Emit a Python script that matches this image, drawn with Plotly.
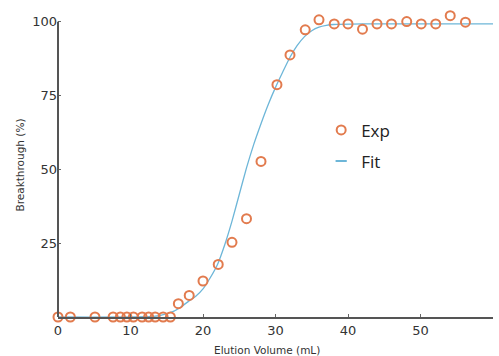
import plotly.graph_objects as go

# Experimental breakthrough data
exp_volume = [0, 1.7, 5.1, 7.6, 8.6, 9.5, 10.4, 11.6, 12.5, 13.4, 14.5, 15.5,
              16.6, 18.1, 20.0, 22.1, 24.0, 26.0, 28.0, 30.2, 32.0, 34.1, 36.0,
              38.1, 40.0, 42.0, 44.0, 46.0, 48.1, 50.1, 52.1, 54.1, 56.2]
exp_breakthrough = [0, 0, 0, 0, 0, 0, 0, 0, 0, 0, 0, 0,
                    4.5, 7.3, 12.2, 17.8, 25.3, 33.3, 52.7, 78.7, 88.8, 97.3, 100.7,
                    99.3, 99.3, 97.5, 99.3, 99.3, 100.1, 99.3, 99.3, 102.1, 99.9]

# Fit curve
fit_volume = [0, 12, 14, 16, 17, 18, 19, 20, 21, 22, 23, 24, 25, 26, 27, 28,
              29, 30, 31, 32, 33, 34, 35, 36, 37, 38, 42, 60]
fit_breakthrough = [0, 0.1, 0.5, 2.0, 3.5, 5.3, 7.0, 9.5, 13.3, 17.8, 24.5, 32.5,
                    41.5, 50.5, 58.5, 65.5, 72.0, 77.8, 83.0, 88.0, 92.0, 95.0,
                    97.0, 98.2, 98.8, 99.1, 99.3, 99.3]

x_ticks = [0, 10, 20, 30, 40, 50, 60]
y_ticks = [25, 50, 75, 100]

orange = "#E27B4E"
blue = "#6DB6D8"
axis_col = "#555555"

fig = go.Figure()
fig.add_trace(go.Scatter(
    x=fit_volume, y=fit_breakthrough, mode="lines",
    line=dict(color=blue, width=1.3, shape="spline", smoothing=0.6),
    showlegend=False, cliponaxis=False, hoverinfo="skip"))
fig.add_trace(go.Scatter(
    x=exp_volume, y=exp_breakthrough, mode="markers", name="Exp",
    marker=dict(symbol="circle-open", size=9, color=orange, line=dict(width=2, color=orange)),
    cliponaxis=False, legendgroup="a"))
fig.add_trace(go.Scatter(
    x=[None], y=[None], mode="markers", name="Fit",
    marker=dict(symbol="line-ew-open", size=8, color=blue, line=dict(width=2, color=blue)),
    legendgroup="b"))

fig.update_layout(
    width=499, height=356,
    margin=dict(l=58, r=6, t=13.1, b=38.5),
    paper_bgcolor="white", plot_bgcolor="white",
    font=dict(family="DejaVu Sans", color="#333333"),
    legend=dict(x=0.605, y=0.673, xanchor="left", yanchor="top",
                font=dict(family="Open Sans", size=17, color="#222222"),
                itemwidth=30, traceorder="grouped", tracegroupgap=6,
                bgcolor="rgba(0,0,0,0)"),
    xaxis=dict(range=[0, 60], tickvals=x_ticks, ticks="inside", ticklen=3,
               tickcolor="#666666", showline=True, linecolor=axis_col, linewidth=2,
               showgrid=False, zeroline=False, tickfont=dict(size=13, color="#333333")),
    yaxis=dict(range=[0, 103], tickvals=y_ticks, ticks="inside", ticklen=3,
               tickcolor="#666666", showline=False,
               showgrid=False, zeroline=False, tickfont=dict(size=13, color="#333333"),
               title=dict(text="Breakthrough (%)", font=dict(size=10.5, color="#333333"),
                          standoff=5)),
    shapes=[dict(type="line", xref="x domain", yref="y", x0=0, x1=0, y0=0, y1=100,
                 line=dict(color=axis_col, width=2), layer="above")],
    annotations=[dict(text="Elution Volume (mL)", xref="paper", yref="paper",
                      x=0.48, y=-0.107, xanchor="center", yanchor="middle",
                      showarrow=False, font=dict(size=10.5, color="#333333"))],
)

fig.write_html("out.html")
